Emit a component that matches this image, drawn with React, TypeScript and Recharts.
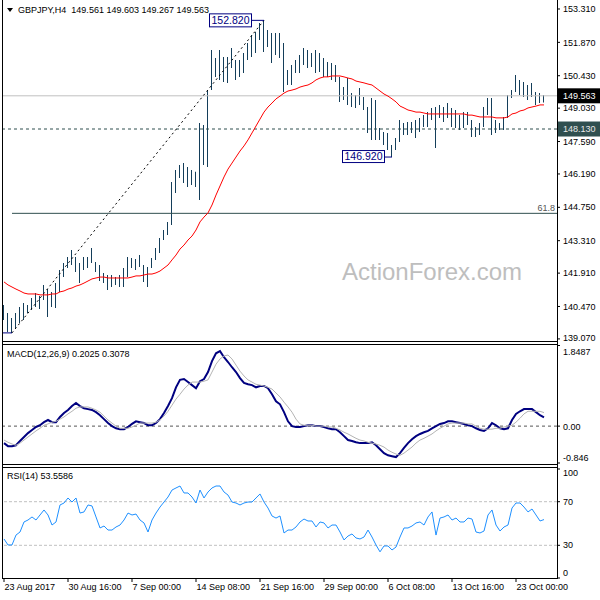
import React from "react";
import { ComposedChart, Bar, Line, XAxis, YAxis, ReferenceLine, ReferenceDot } from "recharts";

// GBPJPY H4 – each point is one 8h slot (two H4 bars merged)
const priceHigh = [
  140.53, 140.19, 139.97, 140.19, 140.45, 140.62, 140.53, 140.84, 141.05, 140.92,
  141.40, 141.22, 141.10, 141.48, 142.04, 142.35, 142.61, 142.91, 142.61, 142.35,
  142.61, 142.61, 142.99, 142.39, 142.26, 141.92, 141.83, 141.83, 141.74, 141.83,
  142.13, 142.61, 142.56, 142.52, 142.69, 142.26, 142.17, 142.56, 142.99, 143.43,
  143.77, 144.12, 145.84, 146.36, 146.58, 146.66, 146.49, 146.36, 146.29, 148.39,
  148.30, 149.81, 151.54, 151.19, 151.54, 151.24, 151.24, 151.63, 151.11, 151.11,
  151.41, 151.84, 152.19, 152.32, 152.71, 152.84, 152.40, 152.27, 152.27, 152.27,
  151.84, 150.68, 150.89, 151.11, 151.32, 151.63, 151.54, 151.41, 151.54, 151.41,
  151.19, 151.02, 150.98, 150.89, 150.38, 149.94, 150.33, 149.68, 149.60, 149.90,
  149.51, 149.08, 149.47, 149.38, 148.17, 148.00, 147.96, 147.44, 147.74, 148.52,
  148.39, 148.43, 148.43, 148.52, 148.61, 148.73, 148.86, 149.04, 149.08, 149.17,
  149.08, 149.25, 149.04, 148.95, 148.73, 148.86, 148.86, 148.52, 148.22, 148.39,
  149.08, 149.47, 149.47, 148.52, 148.39, 148.65, 149.60, 149.81, 150.46, 150.25,
  150.16, 150.03, 150.12, 149.73, 149.68, 149.60,
];

const priceLow = [
  139.89, 139.37, 139.33, 139.54, 139.76, 139.89, 140.19, 140.32, 140.45, 140.36,
  140.75, 140.02, 140.45, 140.40, 141.10, 141.74, 142.13, 142.26, 141.96, 141.48,
  142.04, 142.13, 142.35, 141.96, 141.57, 141.48, 141.18, 141.31, 141.40, 141.31,
  141.31, 141.74, 142.13, 142.04, 142.17, 141.53, 141.31, 142.13, 142.48, 142.78,
  143.34, 143.56, 143.99, 145.37, 146.02, 145.80, 145.63, 145.71, 145.63, 145.07,
  146.58, 146.49, 149.81, 150.38, 150.25, 150.16, 150.12, 150.76, 150.25, 150.38,
  150.55, 151.11, 151.24, 151.41, 151.97, 151.45, 151.67, 150.98, 151.32, 151.19,
  149.73, 150.03, 150.03, 150.55, 150.55, 150.89, 150.76, 150.81, 150.55, 150.59,
  150.38, 150.38, 150.25, 150.16, 149.30, 149.38, 149.17, 149.08, 149.04, 149.17,
  148.95, 147.96, 147.66, 147.66, 147.66, 147.44, 147.22, 146.92, 147.22, 147.57,
  147.87, 147.87, 147.96, 147.74, 148.00, 148.22, 148.22, 148.52, 147.31, 148.61,
  148.43, 148.61, 148.22, 148.17, 148.09, 148.17, 148.30, 147.78, 147.78, 147.87,
  148.22, 148.73, 147.87, 147.96, 148.09, 148.09, 148.61, 149.47, 149.73, 149.60,
  149.51, 149.38, 149.51, 149.17, 149.25, 149.27,
];

const maLine = [
  141.53, 141.40, 141.31, 141.22, 141.14, 141.05, 141.01, 141.01, 141.01, 140.97,
  140.97, 140.97, 141.01, 141.01, 141.10, 141.14, 141.22, 141.27, 141.35, 141.40,
  141.48, 141.57, 141.66, 141.70, 141.74, 141.74, 141.70, 141.70, 141.70, 141.70,
  141.70, 141.70, 141.74, 141.79, 141.79, 141.83, 141.87, 141.87, 141.92, 142.00,
  142.13, 142.26, 142.48, 142.69, 142.95, 143.12, 143.34, 143.51, 143.77, 144.12,
  144.33, 144.51, 144.85, 145.28, 145.67, 146.06, 146.40, 146.66, 146.92, 147.18,
  147.40, 147.66, 147.96, 148.26, 148.56, 148.86, 149.08, 149.25, 149.43, 149.55,
  149.68, 149.77, 149.81, 149.86, 149.94, 149.99, 150.03, 150.12, 150.25, 150.33,
  150.38, 150.38, 150.42, 150.42, 150.42, 150.38, 150.33, 150.29, 150.20, 150.16,
  150.12, 150.07, 150.03, 149.90, 149.77, 149.64, 149.55, 149.43, 149.30, 149.12,
  149.04, 148.95, 148.91, 148.86, 148.86, 148.82, 148.78, 148.78, 148.78, 148.78,
  148.78, 148.78, 148.78, 148.78, 148.78, 148.78, 148.73, 148.73, 148.69, 148.65,
  148.65, 148.65, 148.65, 148.61, 148.61, 148.61, 148.65, 148.78, 148.82, 148.91,
  148.95, 149.04, 149.08, 149.12, 149.17, 149.17,
];

const macdMain = [
  -0.39, -0.46, -0.46, -0.44, -0.34, -0.25, -0.16, -0.09, -0.02, 0.02,
  0.09, 0.14, 0.09, 0.09, 0.21, 0.30, 0.37, 0.46, 0.53, 0.46,
  0.41, 0.39, 0.37, 0.32, 0.25, 0.16, 0.07, 0.00, -0.05, -0.07,
  -0.07, -0.02, 0.05, 0.11, 0.09, 0.07, 0.02, 0.02, 0.07, 0.16,
  0.30, 0.46, 0.64, 0.89, 1.06, 1.08, 1.01, 0.94, 0.87, 1.03,
  1.08, 1.24, 1.49, 1.67, 1.72, 1.58, 1.47, 1.35, 1.24, 1.10,
  0.99, 0.96, 0.94, 0.89, 0.92, 0.92, 0.87, 0.73, 0.57, 0.50,
  0.32, 0.11, 0.00, -0.02, -0.02, 0.00, 0.02, 0.02, 0.00, 0.00,
  -0.02, -0.05, -0.07, -0.07, -0.14, -0.23, -0.32, -0.34, -0.37, -0.39,
  -0.39, -0.39, -0.37, -0.44, -0.53, -0.62, -0.67, -0.69, -0.71, -0.62,
  -0.50, -0.39, -0.30, -0.23, -0.18, -0.14, -0.11, -0.05, 0.00, 0.05,
  0.07, 0.11, 0.11, 0.09, 0.07, 0.05, 0.02, 0.00, -0.05, -0.09,
  -0.11, -0.05, 0.07, 0.02, -0.05, -0.07, -0.05, 0.14, 0.28, 0.34,
  0.39, 0.39, 0.39, 0.32, 0.25, 0.2,
];

const macdSignal = [
  -0.32, -0.37, -0.41, -0.44, -0.39, -0.32, -0.25, -0.18, -0.11, -0.05,
  0.02, 0.05, 0.09, 0.11, 0.16, 0.21, 0.28, 0.34, 0.41, 0.44,
  0.44, 0.44, 0.41, 0.37, 0.32, 0.23, 0.14, 0.07, 0.00, -0.05,
  -0.05, -0.05, -0.02, 0.02, 0.07, 0.07, 0.07, 0.07, 0.09, 0.14,
  0.23, 0.34, 0.48, 0.62, 0.73, 0.85, 0.94, 1.01, 1.01, 1.01,
  1.03, 1.06, 1.24, 1.42, 1.54, 1.61, 1.63, 1.54, 1.40, 1.26,
  1.15, 1.06, 1.01, 0.96, 0.94, 0.92, 0.89, 0.85, 0.76, 0.67,
  0.55, 0.44, 0.32, 0.16, 0.05, 0.02, 0.02, 0.02, 0.00, 0.00,
  0.00, -0.02, -0.02, -0.05, -0.09, -0.14, -0.18, -0.23, -0.28, -0.32,
  -0.34, -0.37, -0.39, -0.41, -0.44, -0.48, -0.55, -0.60, -0.64, -0.67,
  -0.62, -0.55, -0.48, -0.39, -0.32, -0.28, -0.23, -0.18, -0.11, -0.05,
  0.00, 0.05, 0.07, 0.07, 0.07, 0.07, 0.05, 0.05, 0.00, -0.05,
  -0.07, -0.07, -0.07, -0.05, -0.05, -0.02, 0.00, 0.02, 0.09, 0.18,
  0.28, 0.34, 0.34, 0.34, 0.34, 0.31,
];

const rsiValues = [
  35.8, 30.3, 30.3, 39.4, 42.2, 51.4, 53.2, 56.0, 53.2, 57.8,
  62.4, 57.8, 48.6, 51.4, 67.0, 68.8, 73.4, 69.7, 73.4, 59.6,
  60.6, 67.0, 66.1, 56.0, 45.9, 47.7, 44.0, 44.0, 46.8, 48.6,
  53.2, 59.6, 57.8, 58.7, 53.2, 50.5, 42.2, 53.2, 59.6, 65.1,
  69.7, 74.3, 80.7, 82.6, 84.4, 78.0, 78.0, 74.3, 68.8, 80.7,
  73.4, 78.9, 82.6, 84.4, 84.4, 78.9, 76.1, 69.7, 68.8, 67.0,
  68.8, 69.7, 69.7, 73.4, 77.1, 69.7, 64.2, 56.9, 55.0, 56.9,
  41.3, 44.0, 44.0, 46.8, 51.4, 54.1, 52.3, 52.3, 46.8, 51.4,
  50.5, 45.9, 48.6, 48.6, 42.2, 34.9, 38.5, 40.4, 36.7, 35.8,
  37.6, 44.0, 37.6, 30.3, 24.0, 29.4, 29.4, 25.7, 28.4, 37.6,
  45.9, 45.9, 47.7, 50.5, 51.4, 48.6, 56.0, 60.6, 39.4, 55.0,
  56.0, 57.8, 53.2, 55.0, 51.4, 51.4, 55.0, 54.1, 42.2, 41.3,
  43.1, 57.8, 62.4, 48.6, 43.1, 46.8, 48.6, 64.2, 68.8, 68.8,
  65.1, 60.6, 63.3, 57.8, 52.3, 53.6,
];

const priceTicks = [153.31, 151.87, 150.43, 149.03, 147.59, 146.19, 144.75, 143.31, 141.91, 140.47, 139.07];
const macdTicks = [1.8487, 0, -0.846];
const rsiTicks = [100, 70, 30, 0];
const dateTicks = [0, 16, 32, 48, 64, 80, 96, 112, 128];
const dateLabels = [
  "23 Aug 2017", "30 Aug 16:00", "7 Sep 00:00", "14 Sep 08:00", "21 Sep 16:00",
  "29 Sep 00:00", "6 Oct 08:00", "13 Oct 16:00", "23 Oct 00:00",
];

const lastPrice = 149.563;
const supportLevel = 148.13;
const fibLevel = 144.49;
const fibStart = { i: 2, price: 139.33 };
const swingHigh = { i: 65, price: 152.82 };
const swingLow = { i: 97, price: 146.92 };

const data = priceHigh.map((h, i) => ({
  i,
  range: [priceLow[i], h],
  ma: maLine[i],
  macd: macdMain[i],
  signal: macdSignal[i],
  rsi: rsiValues[i],
}));

const FONT = '"Liberation Sans", Arial, sans-serif';
const X_DOMAIN: [number, number] = [-0.5, 138.25];
const NAVY = "#000080";
const SLATE = "#2f4f4f";

const priceTag = (text: string, bg: string, color: string) => (props: any) => {
  const vb = props.viewBox;
  const x = vb.x + vb.width + 1;
  return (
    <g>
      <rect x={x} y={vb.y - 7.5} width={43} height={15} fill={bg} />
      <text x={x + 5} y={vb.y} dy="0.35em" fontSize={9} fill={color} fontFamily={FONT}>
        {text}
      </text>
    </g>
  );
};

const fibLabel = (props: any) => {
  const vb = props.viewBox;
  return (
    <text x={vb.x + vb.width - 2} y={vb.y - 5} dy="0.35em" textAnchor="end" fontSize={9} fill="#555" fontFamily={FONT}>
      61.8
    </text>
  );
};

const highBox = (p: any) => (
  <g>
    <line x1={p.cx - 12} y1={p.cy} x2={p.cx} y2={p.cy} stroke={NAVY} />
    <rect x={p.cx - 54.5} y={p.cy - 6.5} width={42} height={13} fill="#fff" stroke={NAVY} />
    <text x={p.cx - 33.5} y={p.cy} dy="0.36em" textAnchor="middle" fontSize={10.5} fill={NAVY} fontFamily={FONT}>
      152.820
    </text>
  </g>
);

const lowBox = (p: any) => (
  <g>
    <line x1={p.cx - 7} y1={p.cy} x2={p.cx} y2={p.cy} stroke={NAVY} />
    <rect x={p.cx - 49.5} y={p.cy - 6.5} width={42} height={12} fill="#fff" stroke={NAVY} />
    <text x={p.cx - 28.5} y={p.cy - 0.5} dy="0.36em" textAnchor="middle" fontSize={10.5} fill={NAVY} fontFamily={FONT}>
      146.920
    </text>
  </g>
);

const priceTick = (p: any) => {
  const v = Number(p.payload.value);
  // lowest label sits on the window edge, nudge it up a little so it stays whole
  const dy = v < 139.5 ? -1.5 : 0;
  return (
    <text x={p.x} y={p.y + dy} dy="0.35em" fontSize={9} fill="#000" fontFamily={FONT}>
      {v.toFixed(3)}
    </text>
  );
};

const macdTick = (p: any) => {
  const v = p.payload.value;
  const dy = v > 1 ? 6.5 : v < 0 ? -5 : 1;
  return (
    <text x={p.x} y={p.y + dy} dy="0.35em" fontSize={9} fill="#000" fontFamily={FONT}>
      {v === 0 ? "0.00" : String(v)}
    </text>
  );
};

const rsiTick = (p: any) => {
  const v = p.payload.value;
  const dy = v === 100 ? 4 : v === 0 ? -5 : 0;
  return (
    <text x={p.x} y={p.y + dy} dy="0.35em" fontSize={9} fill="#000" fontFamily={FONT}>
      {v}
    </text>
  );
};

const dateTick = (p: any) => (
  <text x={p.x + 0.5} y={p.y} dy="0.71em" fontSize={9} fill="#000" fontFamily={FONT}>
    {dateLabels[dateTicks.indexOf(p.payload.value)]}
  </text>
);

export default function App() {
  return (
    <div style={{ position: "fixed", left: 0, top: 0, width: 600, height: 600, background: "#fff", overflow: "hidden" }}>
      {/* price window */}
      <div style={{ position: "absolute", left: 0, top: 0, zIndex: 2 }}>
        <ComposedChart width={600} height={347} data={data} margin={{ top: 2, right: 0, bottom: 6, left: 2 }}>
          <XAxis type="number" dataKey="i" domain={X_DOMAIN} allowDataOverflow hide />
          <YAxis
            orientation="right"
            width={43}
            domain={[138.98, 153.612]}
            allowDataOverflow
            ticks={priceTicks}
            interval={0}
            axisLine={false}
            tickSize={3}
            tickMargin={3}
            stroke="#000"
            tick={priceTick}
          />
          <ReferenceLine y={lastPrice} stroke="#c0c0c0" label={priceTag("149.563", "#000", "#fff")} />
          <ReferenceLine y={supportLevel} stroke={SLATE} strokeDasharray="3 3" label={priceTag("148.130", SLATE, "#e8e8e8")} />
          <ReferenceLine
            segment={[{ x: fibStart.i, y: fibLevel }, { x: X_DOMAIN[1], y: fibLevel }]}
            stroke={SLATE}
            label={fibLabel}
          />
          <ReferenceLine
            segment={[{ x: fibStart.i, y: fibStart.price }, { x: swingHigh.i, y: swingHigh.price }]}
            stroke="#000"
            strokeDasharray="2 3"
          />
          <ReferenceLine
            segment={[{ x: X_DOMAIN[0], y: fibStart.price }, { x: fibStart.i, y: fibStart.price }]}
            stroke={NAVY}
          />
          <Bar dataKey="range" barSize={1} fill="#143e5a" isAnimationActive={false} />
          <Line type="linear" dataKey="ma" stroke="#ff0000" strokeWidth={1} dot={false} isAnimationActive={false} />
          <ReferenceDot x={swingHigh.i} y={swingHigh.price} shape={highBox} />
          <ReferenceDot x={swingLow.i} y={swingLow.price} shape={lowBox} />
        </ComposedChart>
      </div>

      {/* MACD window */}
      <div style={{ position: "absolute", left: 0, top: 344, zIndex: 1 }}>
        <ComposedChart width={600} height={121} data={data} margin={{ top: 1.5, right: 0, bottom: 2, left: 2 }}>
          <XAxis type="number" dataKey="i" domain={X_DOMAIN} allowDataOverflow hide />
          <YAxis
            orientation="right"
            width={43}
            domain={[-0.846, 1.8487]}
            allowDataOverflow
            ticks={macdTicks}
            interval={0}
            axisLine={false}
            tickSize={3}
            tickMargin={3}
            stroke="#000"
            tick={macdTick}
          />
          <ReferenceLine y={0} stroke="#555" strokeDasharray="3 3" />
          <Line type="linear" dataKey="macd" stroke={NAVY} strokeWidth={2} dot={false} isAnimationActive={false} />
          <Line type="linear" dataKey="signal" stroke="#b4b4b4" strokeWidth={1} dot={false} isAnimationActive={false} />
        </ComposedChart>
      </div>

      {/* RSI window */}
      <div style={{ position: "absolute", left: 0, top: 467, zIndex: 1 }}>
        <ComposedChart width={600} height={133} data={data} margin={{ top: 2, right: 0, bottom: 0, left: 2 }}>
          <XAxis
            type="number"
            dataKey="i"
            domain={X_DOMAIN}
            allowDataOverflow
            ticks={dateTicks}
            interval={0}
            height={22}
            axisLine={false}
            tickSize={4}
            tickMargin={2}
            stroke="#000"
            tick={dateTick}
          />
          <YAxis
            orientation="right"
            width={43}
            domain={[0, 100]}
            allowDataOverflow
            ticks={rsiTicks}
            interval={0}
            axisLine={false}
            tickSize={3}
            tickMargin={3}
            stroke="#000"
            tick={rsiTick}
          />
          <ReferenceLine y={70} stroke="#c0c0c0" strokeDasharray="3 2" />
          <ReferenceLine y={30} stroke="#c0c0c0" strokeDasharray="3 2" />
          <Line type="linear" dataKey="rsi" stroke="#1e90ff" strokeWidth={1} dot={false} isAnimationActive={false} />
        </ComposedChart>
      </div>

      {/* window frames, titles, watermark */}
      <svg width={600} height={600} style={{ position: "absolute", left: 0, top: 0, pointerEvents: "none", zIndex: 3 }}>
        <rect x={2} y={0} width={1} height={579} fill="#000" />
        <rect x={557} y={0} width={1} height={579} fill="#000" />
        {[341, 344, 464, 467, 578].map((y) => (
          <rect key={y} x={2} y={y} width={556} height={1} fill="#000" />
        ))}
        <polygon points="7,8 13,8 10,12" fill="#000" />
        <text x={18} y={13.2} fontSize={9} fill="#000" fontFamily={FONT} style={{ whiteSpace: "pre" }}>
          {"GBPJPY,H4  149.561 149.603 149.267 149.563"}
        </text>
        <text x={7} y={357.2} fontSize={9} fill="#000" fontFamily={FONT}>
          MACD(12,26,9) 0.2025 0.3078
        </text>
        <text x={7} y={478.7} fontSize={9} fill="#000" fontFamily={FONT}>
          RSI(14) 53.5586
        </text>
        <text x={342} y={280} fontSize={24} fill="#bebebe" fontFamily={FONT}>
          ActionForex.com
        </text>
      </svg>
    </div>
  );
}
